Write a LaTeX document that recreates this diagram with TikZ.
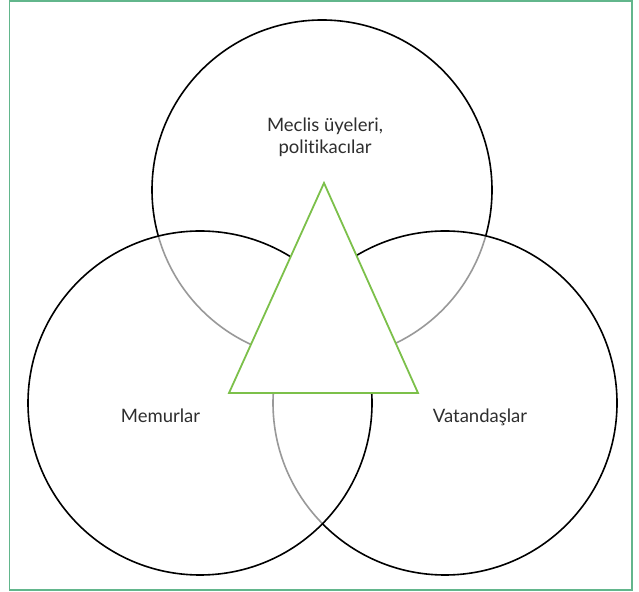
\documentclass[tikz,border=0pt]{standalone}
\usepackage{fontspec}
\setmainfont{Lato}[RawFeature=-liga]
\definecolor{bordergreen}{HTML}{62B68C}
\definecolor{trigreen}{HTML}{7CC04A}
\definecolor{txt}{HTML}{2E2E2E}
\begin{document}
\begin{tikzpicture}[x=1pt,y=1pt,
  ring/.style={draw=black,line width=1.6pt,fill=white,fill opacity=0.6},
  lbl/.style={text=txt,font=\fontsize{18.5}{22}\selectfont,align=center,inner sep=0pt}]
\useasboundingbox (0,0) rectangle (639,591);
\draw[bordergreen,line width=1.6pt] (9.5,1) rectangle (632,590);
\draw[ring] (322,401) circle[radius=170];
\draw[ring] (445,188) circle[radius=172];
\draw[ring] (200,188) circle[radius=172];
\draw[trigreen,line width=1.8pt,fill=white,line join=miter] (324,408) -- (229,198) -- (418,198) -- cycle;
\node[lbl] (top) at (325,454) {Meclis üyeleri,\\politikacılar};
\node[lbl,anchor=base] (mem) at (160.5,168) {Memurlar};
\node[lbl,anchor=base] (vat) at (480,168) {Vatandaşlar};
\end{tikzpicture}
\end{document}
